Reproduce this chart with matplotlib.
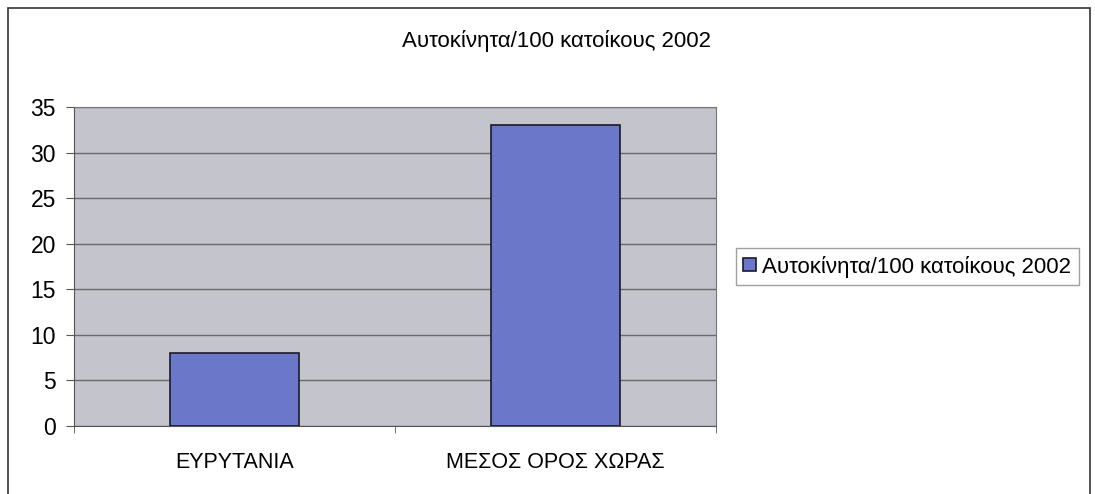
import numpy as np
import matplotlib.pyplot as plt
from matplotlib.patches import Rectangle

plt.rcParams['font.family'] = ['Liberation Sans', 'DejaVu Sans']

categories = ['ΕΥΡΥΤΑΝΙΑ', 'ΜΕΣΟΣ ΟΡΟΣ ΧΩΡΑΣ']
values = [8, 33]
series_name = 'Αυτοκίνητα/100 κατοίκους 2002'
title = 'Αυτοκίνητα/100 κατοίκους 2002'

fig = plt.figure(figsize=(10.95, 4.94), dpi=100)
fig.patch.set_facecolor('white')

# outer chart border
fig.patches.append(Rectangle((0.007, -0.02), 0.988, 1.004, transform=fig.transFigure,
                             fill=False, edgecolor='#333333', linewidth=1.2))

ax = fig.add_axes([0.0676, 0.1377, 0.5864, 0.6453])
ax.set_facecolor('#c3c4cc')

x = np.arange(len(categories))
bars = ax.bar(x, values, width=0.4, color='#6b78c9', edgecolor='#1a1a2a',
              linewidth=1.2, label=series_name, zorder=3)

ax.set_xlim(-0.5, len(categories) - 0.5)
ax.set_ylim(0, 35)
ax.set_yticks(range(0, 36, 5))
ax.yaxis.grid(True, color='#6a6a6a', linewidth=1.0, zorder=1)
ax.set_axisbelow(True)

ax.set_xticks(x, categories)
ax.set_xticks(np.arange(-0.5, len(categories), 1.0), minor=True)
ax.tick_params(axis='x', which='major', length=0, labelsize=15.5, pad=19)
ax.tick_params(axis='x', which='minor', length=5, color='#555555', direction='out')
ax.tick_params(axis='y', length=6, color='#555555', labelsize=16.5, pad=7)

for side in ['top', 'right']:
    ax.spines[side].set_color('#777777')
ax.spines['left'].set_color('#555555')
ax.spines['bottom'].set_color('#555555')

fig.text(0.508, 0.918, title, ha='center', va='center', fontsize=16)

leg = ax.legend(loc='center left', bbox_to_anchor=(1.02, 0.5), fontsize=16,
                frameon=True, fancybox=False, handlelength=0.55, handleheight=0.55,
                handletextpad=0.3, borderpad=0.35, borderaxespad=0.3)
leg.get_frame().set_edgecolor('#888888')
leg.get_frame().set_linewidth(1.0)

fig.savefig('out.png', dpi=100)
